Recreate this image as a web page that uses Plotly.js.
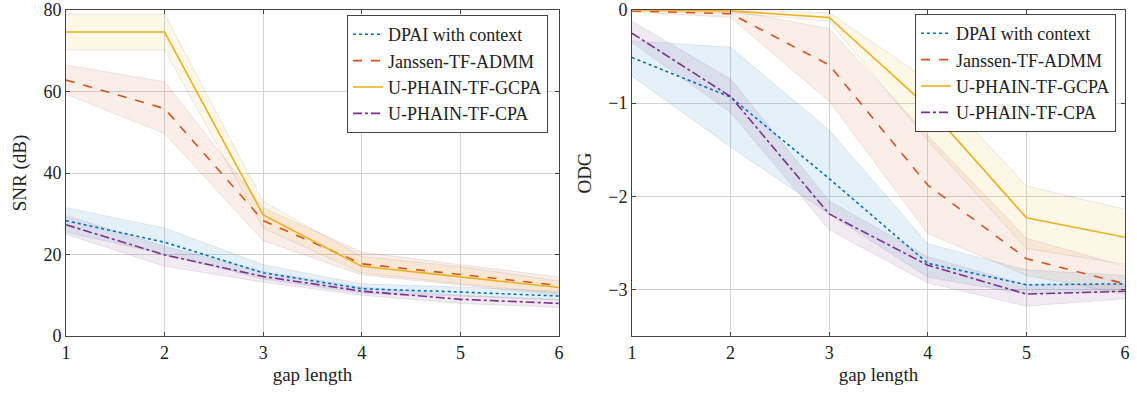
<!DOCTYPE html>
<html>
<head>
<meta charset="utf-8">
<script src="https://cdn.plot.ly/plotly-3.0.1.min.js"></script>
<style>html,body{margin:0;padding:0;background:#fff;}#chart{width:1137px;height:394px;}</style>
</head>
<body>
<div id="chart"></div>
<script>
// ---- data ----
const gapLength = [1, 2, 3, 4, 5, 6];
const seriesNames = ["DPAI with context", "Janssen-TF-ADMM", "U-PHAIN-TF-GCPA", "U-PHAIN-TF-CPA"];

// SNR (dB)
const snrDPAI      = [28.3, 23.0, 15.5, 11.6, 10.8, 9.8];
const snrDPAIUp    = [31.5, 26.5, 17.5, 12.8, 12.0, 11.0];
const snrDPAILo    = [25.5, 20.0, 14.0, 10.5, 9.8, 8.8];
const snrJanssen   = [62.8, 55.8, 28.3, 17.7, 15.1, 12.4];
const snrJanssenUp = [66.5, 62.4, 31.5, 20.6, 17.5, 14.5];
const snrJanssenLo = [59.3, 49.7, 23.4, 15.0, 12.5, 10.0];
const snrGCPA      = [74.6, 74.6, 29.7, 17.1, 14.5, 11.9];
const snrGCPAUp    = [79.0, 79.0, 33.0, 19.5, 17.0, 13.5];
const snrGCPALo    = [70.2, 70.2, 26.5, 15.5, 12.8, 10.5];
const snrCPA       = [27.3, 19.9, 14.6, 11.0, 9.0, 8.0];
const snrCPAUp     = [29.5, 22.0, 15.8, 12.0, 10.0, 9.0];
const snrCPALo     = [25.0, 17.1, 13.2, 10.0, 8.0, 7.0];

// ODG
const odgDPAI      = [-0.51, -0.935, -1.81, -2.72, -2.95, -2.94];
const odgDPAIUp    = [-0.33, -0.40, -1.29, -2.51, -2.79, -2.85];
const odgDPAILo    = [-0.71, -1.47, -2.19, -2.87, -3.05, -3.02];
const odgJanssen   = [-0.01, -0.04, -0.59, -1.88, -2.67, -2.94];
const odgJanssenUp = [0.0, 0.0, -0.20, -1.35, -2.45, -2.75];
const odgJanssenLo = [-0.02, -0.08, -0.98, -2.40, -2.85, -3.05];
const odgGCPA      = [0.0, -0.01, -0.08, -1.04, -2.23, -2.44];
const odgGCPAUp    = [0.0, 0.0, -0.03, -0.75, -1.89, -2.14];
const odgGCPALo    = [-0.01, -0.03, -0.12, -1.40, -2.56, -2.73];
const odgCPA       = [-0.25, -0.93, -2.19, -2.74, -3.05, -3.02];
const odgCPAUp     = [-0.12, -0.74, -2.05, -2.65, -2.95, -2.95];
const odgCPALo     = [-0.35, -1.10, -2.36, -2.93, -3.18, -3.10];

const xTicks = [1, 2, 3, 4, 5, 6];
const snrTicks = [0, 20, 40, 60, 80];
const odgTicks = [-3, -2, -1, 0];

// ---- styles ----
const colors = [[0,114,189],[217,83,25],[237,177,32],[126,47,142]];
const dashes = ["dot", "dash", "solid", "dashdot"];
const rgba = (c, a) => `rgba(${c[0]},${c[1]},${c[2]},${a})`;

const snrSets = [[snrDPAI, snrDPAIUp, snrDPAILo], [snrJanssen, snrJanssenUp, snrJanssenLo],
                 [snrGCPA, snrGCPAUp, snrGCPALo], [snrCPA, snrCPAUp, snrCPALo]];
const odgSets = [[odgDPAI, odgDPAIUp, odgDPAILo], [odgJanssen, odgJanssenUp, odgJanssenLo],
                 [odgGCPA, odgGCPAUp, odgGCPALo], [odgCPA, odgCPAUp, odgCPALo]];

const traces = [];
function addPanel(sets, xa, ya, legendId) {
  sets.forEach((s, i) => {
    traces.push({x: gapLength, y: s[2], xaxis: xa, yaxis: ya, mode: "lines", showlegend: false,
      line: {color: "rgba(120,120,120,0.15)", width: 1}, hoverinfo: "skip"});
    traces.push({x: gapLength, y: s[1], xaxis: xa, yaxis: ya, mode: "lines", showlegend: false,
      fill: "tonexty", fillcolor: rgba(colors[i], 0.1),
      line: {color: "rgba(120,120,120,0.15)", width: 1}, hoverinfo: "skip"});
  });
  sets.forEach((s, i) => {
    traces.push({x: gapLength, y: s[0], xaxis: xa, yaxis: ya, mode: "lines", name: seriesNames[i],
      legend: legendId, line: {color: rgba(colors[i], 1), width: 1.6, dash: dashes[i]}});
  });
}
addPanel(snrSets, "x", "y", "legend");
addPanel(odgSets, "x2", "y2", "legend2");

const fam = "'Liberation Serif', 'DejaVu Serif', serif";
const font = {family: fam, size: 17, color: "#222"};
const axisCommon = {
  showline: true, linecolor: "#444", linewidth: 1, mirror: "ticks",
  ticks: "inside", ticklen: 4, tickcolor: "#444",
  showgrid: true, gridcolor: "#d4d4d4", gridwidth: 1, zeroline: false,
  ticklabeloverflow: "allow",
  tickfont: {family: fam, size: 18, color: "#222"}
};
const yDom = [1 - 336/394, 1 - 10/394];
const legendCommon = {
  bgcolor: "#fff", bordercolor: "#444", borderwidth: 1,
  font: {family: fam, size: 18, color: "#222"},
  xanchor: "right", yanchor: "top", tracegroupgap: 0, itemwidth: 30,
  traceorder: "normal"
};
const titleFont = {family: fam, size: 19, color: "#222"};

const layout = {
  width: 1137, height: 394,
  margin: {l: 0, r: 0, t: 0, b: 0},
  paper_bgcolor: "#fff", plot_bgcolor: "#fff",
  font: font,
  xaxis: Object.assign({}, axisCommon, {domain: [66/1137, 559/1137], range: [1, 6], tickvals: xTicks,
    anchor: "y", title: {text: "gap length", font: titleFont, standoff: 6}}),
  yaxis: Object.assign({}, axisCommon, {domain: yDom, range: [0, 80], tickvals: snrTicks,
    anchor: "x", title: {text: "SNR (dB)", font: titleFont, standoff: 11}}),
  xaxis2: Object.assign({}, axisCommon, {domain: [632/1137, 1125/1137], range: [1, 6], tickvals: xTicks,
    anchor: "y2", title: {text: "gap length", font: titleFont, standoff: 6}}),
  yaxis2: Object.assign({}, axisCommon, {domain: yDom, range: [-3.5, 0], tickvals: odgTicks,
    anchor: "x2", title: {text: "ODG", font: titleFont, standoff: 11}}),
  legend: Object.assign({}, legendCommon, {x: 548/1137, y: 1 - 15/394}),
  legend2: Object.assign({}, legendCommon, {x: 1116/1137, y: 1 - 14/394}),
  showlegend: true
};

Plotly.newPlot("chart", traces, layout, {displayModeBar: false, staticPlot: true});
</script>
</body>
</html>
